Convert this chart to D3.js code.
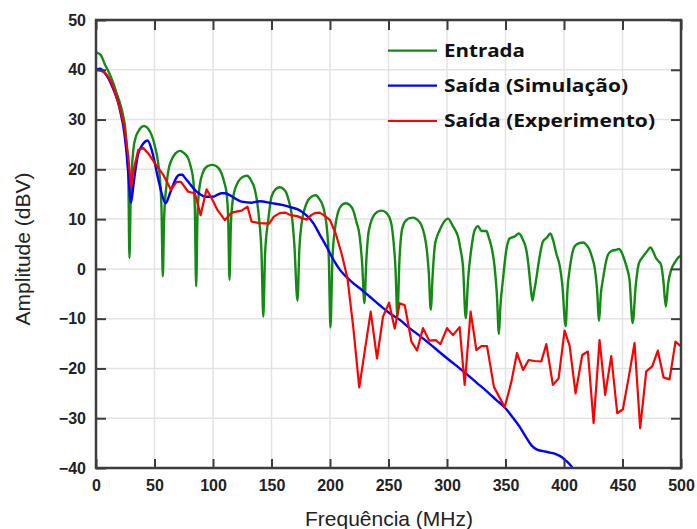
<!DOCTYPE html>
<html>
<head>
<meta charset="utf-8">
<script src="https://cdn.jsdelivr.net/npm/d3@7"></script>
<style>
  body { margin: 0; background: #fff; }
  svg { display: block; }
</style>
</head>
<body>
<svg id="chart" width="697" height="529"></svg>
<script>
// Chart data: [MHz, dBV]
const xTicks = [0, 50, 100, 150, 200, 250, 300, 350, 400, 450, 500];
const yTicks = [-40, -30, -20, -10, 0, 10, 20, 30, 40, 50];
const seriesNames = ["Entrada", "Saída (Simulação)", "Saída (Experimento)"];
const seriesColors = ["#138a13", "#0000ff", "#ff0000"];

const entrada = [
  [0,43.5],[4,43],[7.7,41],[11,39.5],[14.8,37.3],[18,35],[20.5,33.3],[23,31],[24.8,28.6],[26.3,24.5],[27.6,19.2],[28.6,2.2],
  [29.6,14],[31.9,23.9],[34,26.5],[36.1,27.6],[41,28.7],[46.1,27.6],[50.4,24.6],[53,21.5],[54.7,17.9],[56,12],[57.1,-1.5],
  [58.2,10],[60.4,17.2],[62.5,20.5],[64.6,21.9],[68,23.2],[71.7,23.7],[75,23.3],[78.8,22.2],[81,20.5],[83.1,17.9],[84.5,12],[85.6,-3.5],
  [86.8,11],[88.5,16.5],[91.6,19.5],[95,20.6],[99.3,20.9],[103,20.6],[106.7,19.5],[109.5,17.5],[111.6,15.2],[113,10],[114.1,-2.2],
  [115.3,9],[117.3,14.5],[121.5,17.5],[125,18.4],[129,18.7],[132.5,17.8],[135.8,15.9],[138,13],[139.5,9.8],[141.5,3],[143,-9.6],
  [144.5,3],[147.2,9.8],[150,14.5],[153.5,16],[157.1,16.4],[160,16.1],[162.8,15.2],[165,13.5],[167.1,11.2],[169.5,5],[172.2,-6.4],
  [173.8,4],[175.7,9.1],[178,11.8],[180,13.2],[184,14.5],[187.9,14.8],[191,14],[194.1,12.5],[196,10.5],[197.5,7.8],[199,2],[200.4,-11.8],
  [202,1.5],[204.1,7.8],[207,11.5],[210,12.8],[213.5,13.2],[217,12.8],[219.8,11.8],[222.5,9.5],[225.4,6.5],[227.5,1],[229.4,-6.9],
  [231,1.5],[232.5,6.5],[234.5,9],[236.8,10.5],[240,11.4],[243.9,11.7],[247.5,11.4],[250.5,10.5],[252.5,9],[253.9,6.5],[256,0],[257.6,-9.6],
  [259.3,1.5],[261,7.1],[263,9],[265.3,9.8],[268,10.2],[271,10.3],[274.5,9.9],[278.1,8.8],[280.5,7],[282.4,4.5],[284.5,-1],[286.1,-8.2],
  [287.8,-1],[289.5,4.5],[291.5,6.5],[293.8,7.8],[297,9.3],[300.9,10.1],[304.6,8.8],[307,7.8],[309.4,6.5],[311.5,4],[313.7,0.4],[316,-9.9],
  [318,-2.2],[320.8,4.1],[323.7,7.8],[326.5,8.6],[329.4,7.6],[333.6,7.6],[335.8,6.3],[337.9,4.5],[340.7,0.4],[342.6,-5],[344.4,-13.1],
  [345.5,-8],[347.8,-2.2],[350.7,3.8],[353.5,6.1],[357.8,6.5],[361.5,7.1],[365,5.8],[367.8,3.8],[369.5,1],[371.2,-2.9],[373,-6.4],
  [374.5,-4.5],[375.7,-2.9],[379.2,2.5],[382,5.5],[385.4,6.3],[388.3,7.1],[391,5.5],[393.4,3.1],[396.2,0.8],[398.5,-3],[401.4,-11.5],
  [403,-4],[404.8,-0.2],[409,4.5],[413.3,5.2],[416.7,5.3],[419.5,4.7],[421.9,3.8],[424,2.3],[426.1,0.4],[428.2,-4],[430,-10.4],
  [431.5,-5],[433.2,-2.2],[437.5,2.8],[440.5,3.6],[444,3.8],[447,4.0],[449.5,3.2],[451.7,1.8],[454,0],[456,-2.2],[458.7,-10.9],
  [461.2,-3.6],[464,1.1],[467,2.3],[470.5,3.4],[474,4.3],[476.5,3.3],[478.8,2.1],[481,1.5],[483,0.8],[485,-2.5],[487,-7.6],
  [489,-3],[491.6,-0.2],[494.5,1.2],[498.7,2.5],[500,2.6]
];

const simulacao = [
  [0,40],[3.4,40.2],[7.7,39.3],[10.5,38.3],[13.4,36.9],[16.3,35.2],[19.1,33.3],[21.3,31],[23.4,28.6],[25.6,24.5],[27.6,19.2],
  [29.9,13.3],[31.8,16.5],[33.3,19.2],[36.1,23.2],[38.3,24.4],[40.4,25.2],[44.1,25.8],[47.6,23.9],[49.8,21.8],[51.8,19.5],
  [54,17.2],[56.1,15.2],[59.5,13.2],[63.2,15.2],[66,16.9],[68.9,18.4],[71.5,18.9],[73.7,18.9],[76,18.3],[78.8,17.5],[82.5,16.4],
  [86,15.5],[89.6,14.9],[93.1,14.5],[100.2,14.5],[104,14.9],[107.3,15.2],[110,15.2],[115.9,14.6],[120,14],[124.4,13.5],[133,13.3],
  [140,13.6],[150,13.2],[160,12.8],[166,12.4],[172,12],[177,11.3],[181,10.5],[186,9.1],[191,7],[197,4.5],[203,1.8],[208.5,-0.2],
  [214,-1.6],[220,-2.9],[227,-4.2],[234,-5.6],[242,-7.2],[251,-8.9],[260,-10.3],[268,-11.9],[277,-13.5],[286,-15.2],[295,-17],
  [304,-18.7],[314,-20.6],[325,-22.8],[335,-24.8],[342,-26.3],[350,-28],[356,-29.8],[362,-31.7],[367,-33.6],[372,-35.4],[377,-36.3],
  [382,-36.6],[388,-36.9],[394,-37.3],[398,-37.8],[401,-38.4],[405,-39.3],[408,-40.2],[412,-41.5]
];

const experimento = [
  [0,40],[4,39.8],[7.7,39.4],[10.5,38.6],[13.4,37.3],[16.3,35.4],[19.1,33.3],[21.8,31],[24.2,28.6],[26,25.5],[27.6,22.5],[29.9,16.5],
  [32.7,20.5],[36.1,23.9],[40.4,24.3],[44.7,23.2],[50.4,21.2],[57.5,18.9],[64,15.9],[68.9,17.5],[72.6,17.5],[78.8,15.5],[84.5,15.2],
  [89.4,10.8],[94.5,16],[98.8,14.2],[103.9,11.8],[110.2,9.8],[115.9,11.3],[124.4,11.7],[129.5,12.5],[133,9.5],[140,9.2],[148,9.1],
  [152,10.5],[157,11.2],[162,11.3],[166,10.8],[172,10.6],[176,10.2],[180,9.9],[184,10.8],[187,11.2],[191,11.3],[194,10.9],[198,10.2],
  [200,9.8],[205,7],[210,3],[215,-2],[220,-12],[225,-23.8],[234.8,-8.6],[240.2,-18],[245.3,-9.6],[250.5,-6.8],[255.3,-12],[259.6,-6.9],
  [263.9,-7.3],[269.6,-14.6],[274.4,-16.4],[279.5,-11.9],[284.7,-14.4],[290.4,-14.3],[294.4,-15.1],[300,-11.9],[305.1,-13.3],
  [310.8,-11.7],[315.1,-23.3],[320.2,-8.6],[325.1,-16.3],[329.4,-15.5],[334.2,-15.5],[340.1,-23.7],[349.3,-27.8],[355,-22.7],
  [359.8,-16.9],[365,-20.3],[369.8,-18.3],[374.9,-18.5],[380.6,-18.6],[384.9,-15.1],[390.5,-23.3],[395.4,-22],[400.5,-12.4],
  [404.8,-15.4],[409.9,-25],[415.6,-17.3],[420.4,-16.6],[425.3,-31],[430.4,-14.3],[435.2,-25.3],[440.4,-17.5],[445.5,-29],
  [450.3,-28.2],[455.4,-21.7],[460.3,-14.9],[465.1,-32],[470.3,-20.6],[475.4,-19.6],[480.2,-16.4],[485.1,-21.8],[490.2,-22.2],
  [495.3,-14.6],[500,-15.6]
];

// Layout
const margin = { top: 20, right: 16, bottom: 61, left: 96 };
const W = 697, H = 529;
const w = W - margin.left - margin.right;
const h = H - margin.top - margin.bottom;

const svg = d3.select("#chart");
const g = svg.append("g").attr("transform", `translate(${margin.left},${margin.top})`);

const x = d3.scaleLinear().domain([0, 500]).range([0, w]);
const y = d3.scaleLinear().domain([-40, 50]).range([h, 0]);

// Grid
const grid = g.append("g").attr("class", "grid");
grid.selectAll("line.vx")
  .data(xTicks)
  .join("line")
  .attr("class", "vx")
  .attr("x1", d => x(d)).attr("x2", d => x(d))
  .attr("y1", 0).attr("y2", h);
grid.selectAll("line.hy")
  .data(yTicks)
  .join("line")
  .attr("class", "hy")
  .attr("x1", 0).attr("x2", w)
  .attr("y1", d => y(d)).attr("y2", d => y(d));
grid.selectAll("line").style("stroke", "#e3e3e3").style("stroke-width", 1.5);

// Clip for the curves
svg.append("defs").append("clipPath").attr("id", "plotclip")
  .append("rect").attr("width", w).attr("height", h);

const plot = g.append("g").attr("clip-path", "url(#plotclip)");

const smoothLine = d3.line()
  .x(d => x(d[0]))
  .y(d => y(d[1]))
  .curve(d3.curveMonotoneX);

const straightLine = d3.line()
  .x(d => x(d[0]))
  .y(d => y(d[1]));

plot.append("path").datum(entrada)
  .attr("d", smoothLine)
  .style("fill", "none").style("stroke", seriesColors[0]).style("stroke-width", 2.4)
  .style("stroke-linejoin", "round");

plot.append("path").datum(simulacao)
  .attr("d", smoothLine)
  .style("fill", "none").style("stroke", seriesColors[1]).style("stroke-width", 2.4)
  .style("stroke-linejoin", "round");

plot.append("path").datum(experimento)
  .attr("d", straightLine)
  .style("fill", "none").style("stroke", seriesColors[2]).style("stroke-width", 2.2)
  .style("stroke-linejoin", "round");

// Axes with inward ticks
const axisColor = "#3c3c3c";
const tickFont = "'Liberation Sans', Arial, sans-serif";

const xAxis = g.append("g")
  .attr("transform", `translate(0,${h})`)
  .call(d3.axisBottom(x).tickValues(xTicks).tickSize(-9).tickSizeOuter(0).tickPadding(12));
const yAxis = g.append("g")
  .call(d3.axisLeft(y).tickValues(yTicks).tickSize(-10).tickSizeOuter(0).tickPadding(10));
const topAxis = g.append("g")
  .call(d3.axisTop(x).tickValues(xTicks).tickSize(-10).tickSizeOuter(0).tickFormat(""));
const rightAxis = g.append("g")
  .attr("transform", `translate(${w},0)`)
  .call(d3.axisRight(y).tickValues(yTicks).tickSize(-10).tickSizeOuter(0).tickFormat(""));

[xAxis, yAxis, topAxis, rightAxis].forEach(a => {
  a.select(".domain").remove();
  a.selectAll(".tick line").style("stroke", axisColor).style("stroke-width", 2);
  a.selectAll("text")
    .style("font-family", tickFont)
    .style("font-weight", "bold")
    .style("font-size", "16px")
    .style("fill", "#222");
});

// Frame
g.append("rect")
  .attr("width", w).attr("height", h)
  .style("fill", "none").style("stroke", axisColor).style("stroke-width", 2.5);

// Axis titles
svg.append("text")
  .attr("transform", "translate(30,249) rotate(-90)")
  .attr("text-anchor", "middle")
  .style("font-family", tickFont)
  .style("font-size", "21px")
  .style("fill", "#222")
  .text("Amplitude (dBV)");

svg.append("text")
  .attr("x", 389).attr("y", 526)
  .attr("text-anchor", "middle")
  .style("font-family", tickFont)
  .style("font-size", "21px")
  .style("fill", "#222")
  .text("Frequência (MHz)");

// Legend
const legendY = [56.7, 91.7, 127];
const legendLen = [81, 184, 211];
const legend = svg.append("g");
seriesNames.forEach((name, i) => {
  legend.append("line")
    .attr("x1", 388).attr("x2", 437)
    .attr("y1", legendY[i] - 6).attr("y2", legendY[i] - 6)
    .style("stroke", seriesColors[i]).style("stroke-width", 2.2);
  legend.append("text")
    .attr("x", 444).attr("y", legendY[i])
    .attr("textLength", legendLen[i])
    .attr("lengthAdjust", "spacingAndGlyphs")
    .style("font-family", "'Open Sans', sans-serif")
    .style("font-weight", "bold")
    .style("font-size", "17px")
    .style("fill", "#111")
    .text(name);
});
</script>
</body>
</html>
